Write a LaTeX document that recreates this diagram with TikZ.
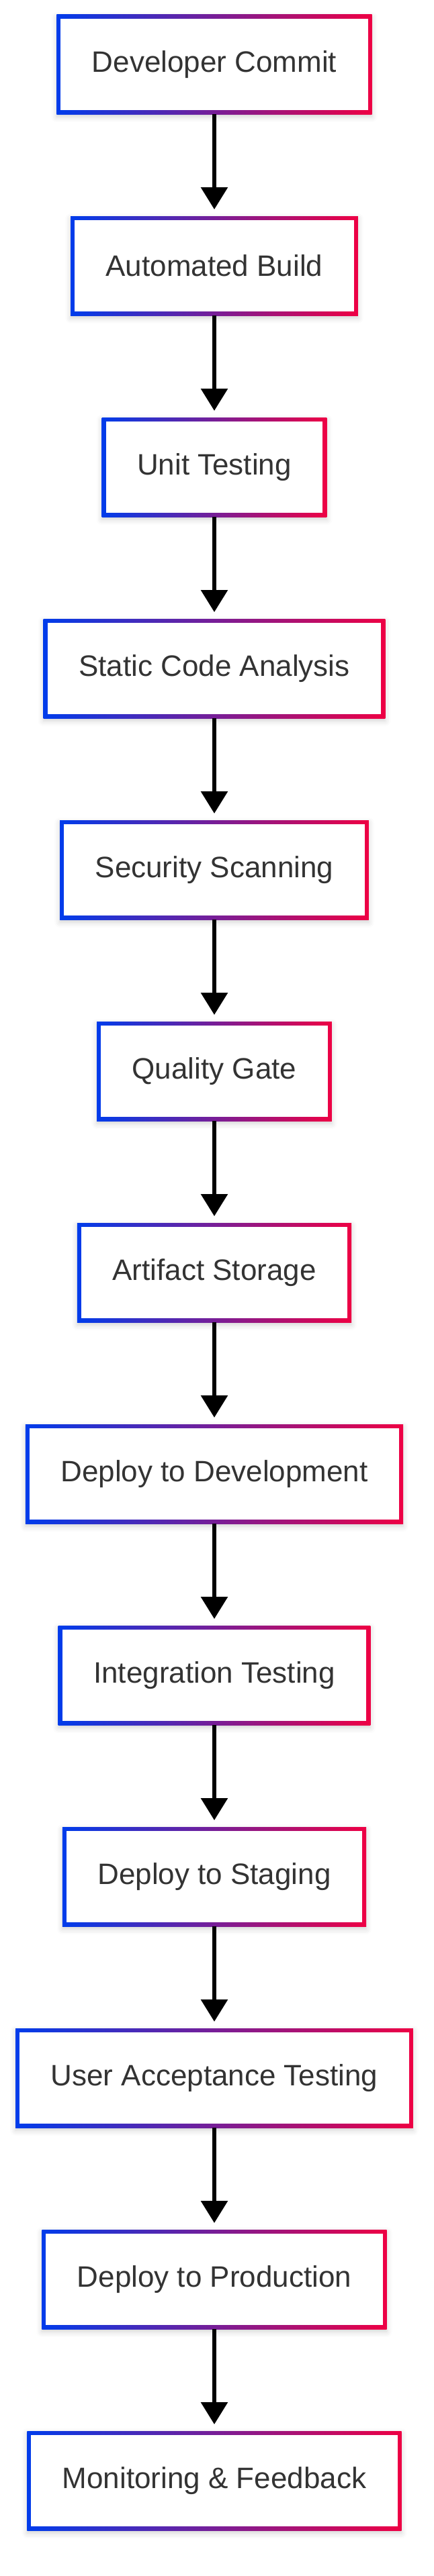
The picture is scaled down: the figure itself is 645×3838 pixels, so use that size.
\documentclass[tikz,border=0pt]{standalone}
\usepackage{fontspec}
\setmainfont{Liberation Sans}
\usepackage{tikz}
\usetikzlibrary{arrows.meta, shadows.blur, positioning}
\definecolor{edgeBlue}{RGB}{0,60,235}
\definecolor{edgeRed}{RGB}{238,0,68}
\definecolor{labelGrey}{RGB}{51,51,51}
\tikzset{
    stage/.style={rectangle, fill=white, minimum height=74pt, inner xsep=26.25pt, inner ysep=0pt, outer sep=0pt,
        font=\fontsize{22}{26}\selectfont, text=labelGrey,
        blur shadow={shadow xshift=0pt, shadow yshift=-2pt, shadow blur radius=4pt, shadow opacity=18},
        path picture={
            \shade[left color=edgeBlue, right color=edgeRed] (path picture bounding box.south west) rectangle (path picture bounding box.north east);
            \fill[white] ([shift={(3pt,3pt)}]path picture bounding box.south west) rectangle ([shift={(-3pt,-3pt)}]path picture bounding box.north east);
        }},
    flow/.style={-{Triangle[width=19.5pt, length=16.5pt]}, line width=3pt, black, shorten >=5pt},
}
\newcommand{\drawFlow}[2]{
    \draw[flow] (#1) -- (#2);
}

\begin{document}
\begin{tikzpicture}[x=0.5pt, y=-0.5pt]

    \useasboundingbox (0, 0) rectangle (645, 3838);

    % pipeline stages
    \node[stage] (commit) at (319, 96) {Developer Commit};
    \node[stage] (build) at (319, 396) {Automated Build};
    \node[stage] (unit) at (319, 696) {Unit Testing};
    \node[stage] (static) at (319, 996) {Static Code Analysis};
    \node[stage] (security) at (319, 1296) {Security Scanning};
    \node[stage] (gate) at (319, 1596) {Quality Gate};
    \node[stage] (artifact) at (319, 1896) {Artifact Storage};
    \node[stage] (devdeploy) at (319, 2196) {Deploy to Development};
    \node[stage] (integration) at (319, 2496) {Integration Testing};
    \node[stage] (staging) at (319, 2796) {Deploy to Staging};
    \node[stage] (uat) at (319, 3096) {User Acceptance Testing};
    \node[stage] (production) at (319, 3396) {Deploy to Production};
    \node[stage] (monitor) at (319, 3696) {Monitoring \& Feedback};

    % flow between stages
    \drawFlow{commit}{build}
    \drawFlow{build}{unit}
    \drawFlow{unit}{static}
    \drawFlow{static}{security}
    \drawFlow{security}{gate}
    \drawFlow{gate}{artifact}
    \drawFlow{artifact}{devdeploy}
    \drawFlow{devdeploy}{integration}
    \drawFlow{integration}{staging}
    \drawFlow{staging}{uat}
    \drawFlow{uat}{production}
    \drawFlow{production}{monitor}

\end{tikzpicture}
\end{document}
